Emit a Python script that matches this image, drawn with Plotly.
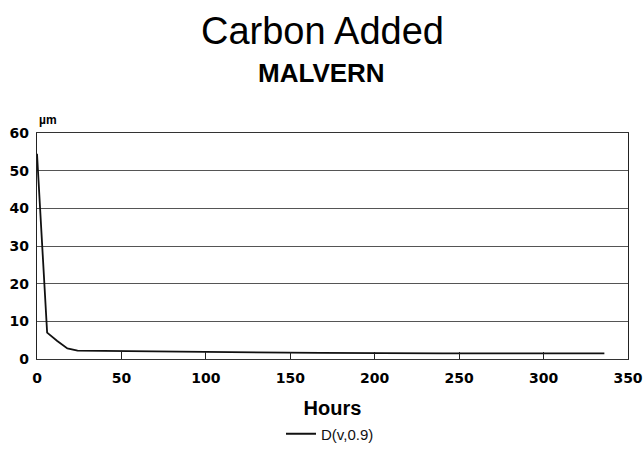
import plotly.graph_objects as go

hours = [0, 6, 12, 18, 24, 48, 72, 96, 168, 240, 336]
d_v09 = [54.5, 7.0, 4.8, 2.8, 2.2, 2.1, 1.9, 1.8, 1.6, 1.5, 1.5]

title_main = "Carbon Added"
title_sub = "MALVERN"
x_title = "Hours"
y_unit = "µm"
series_name = "D(v,0.9)"

W, H = 644, 453
L, R, T, B = 37, 16, 133, 94
pw, ph = W - L - R, H - T - B


def px_x(px):
    return (px - L) / pw


def px_y(py):
    return (H - B - py) / ph


fig = go.Figure()
fig.add_trace(go.Scatter(
    x=hours, y=d_v09, mode="lines", name=series_name,
    line=dict(color="#111111", width=1.8),
))

fig.update_layout(
    width=W, height=H,
    margin=dict(l=L, r=R, t=T, b=B, autoexpand=False),
    paper_bgcolor="white", plot_bgcolor="white",
    showlegend=True,
    legend=dict(orientation="h", x=px_x(330), xanchor="center", y=px_y(434), yanchor="middle",
                font=dict(family="Liberation Sans", size=15, color="#111")),
    annotations=[
        dict(text=title_main, x=px_x(322), y=px_y(31), xref="paper", yref="paper",
             showarrow=False, yanchor="middle",
             font=dict(family="Liberation Sans", size=38, color="#000")),
        dict(text="<b>" + title_sub + "</b>", x=px_x(321), y=px_y(73), xref="paper", yref="paper",
             showarrow=False, yanchor="middle",
             font=dict(family="Liberation Sans", size=26, color="#000")),
        dict(text="<b>" + y_unit + "</b>", x=0, y=1, xref="paper", yref="paper",
             xanchor="left", yanchor="bottom", yshift=4, showarrow=False,
             font=dict(family="Liberation Sans", size=12, color="#000")),
    ],
)

fig.update_xaxes(
    range=[0, 350], tickvals=[0, 50, 100, 150, 200, 250, 300, 350],
    ticks="inside", ticklen=7, tickcolor="#222", tickwidth=1,
    showgrid=False, zeroline=False, automargin=False,
    showline=True, linecolor="#333", linewidth=1, mirror=True,
    tickfont=dict(family="DejaVu Sans", size=14, color="#000", weight="bold"),
    ticklabelstandoff=6,
    title=dict(text="<b>" + x_title + "</b>", standoff=16,
               font=dict(family="Liberation Sans", size=20, color="#000")),
)
fig.update_yaxes(
    range=[0, 60], dtick=10, ticks="", showgrid=True, gridcolor="#555", gridwidth=1,
    zeroline=False, showline=True, linecolor="#222", linewidth=1.2, mirror=True,
    automargin=False,
    tickfont=dict(family="DejaVu Sans", size=14, color="#000", weight="bold"),
    ticklabelstandoff=4,
)

fig.write_html("out.html")
